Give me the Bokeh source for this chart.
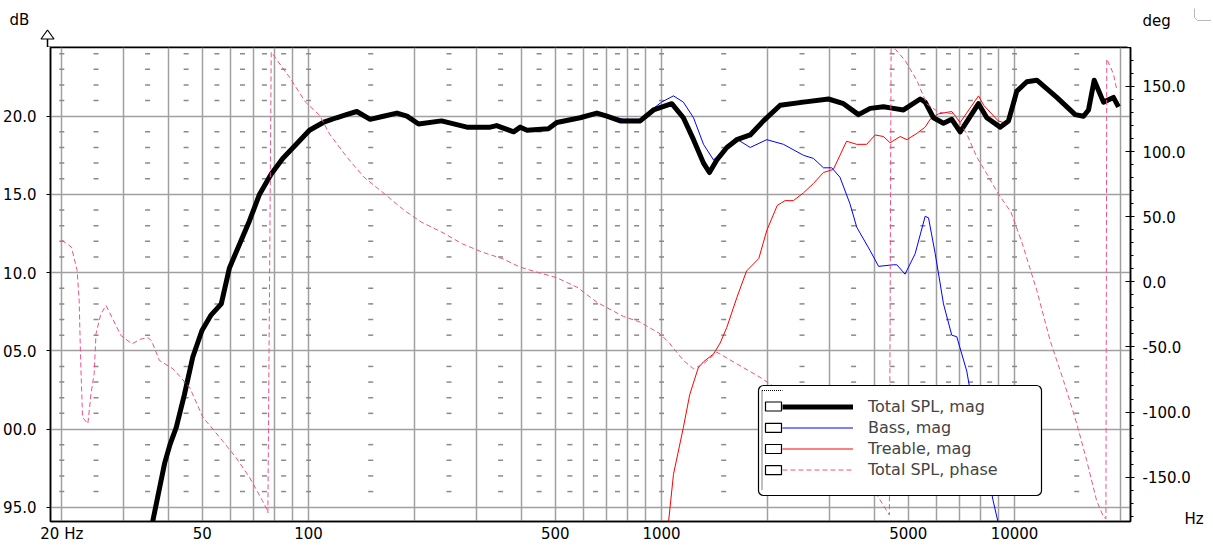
import math
from bokeh.plotting import figure
from bokeh.layouts import column
from bokeh.models import (Range1d, LinearAxis, FixedTicker, Legend, LegendItem,
                          BoxAnnotation, Label, Arrow, PolyAnnotation, PrintfTickFormatter)
from bokeh.embed import file_html
from bokeh.resources import INLINE

# ---------------- data ----------------
total_freq = [35.5, 36.2, 37.5, 39.1, 40.5, 42.2, 44.5, 47.0, 49.9, 53.0, 56.6, 59.7, 63.7, 68.0,
              72.6, 78.4, 84.5, 92.3, 100.6, 110, 120, 128, 137, 149.5, 163, 178, 190, 205, 238,
              281, 327, 341, 381, 398, 416, 478, 505, 588, 656, 700, 764, 870, 949, 1069, 1153,
              1232, 1315, 1367, 1434, 1531, 1634, 1783, 1944, 2168, 2524, 2971, 3277, 3614, 3900,
              4253, 4541, 4846, 5405, 5583, 5894, 6291, 6639, 7015, 7906, 8346, 9104, 9613, 10150,
              10835, 11565, 13175, 14852, 15680, 16200, 16814, 17863, 19060, 19700]
total_db = [93.3, 94.1, 95.8, 97.8, 99.0, 100.1, 102.2, 104.6, 106.3, 107.3, 108.0, 110.3, 111.8, 113.3,
            115.0, 116.3, 117.3, 118.2, 119.1, 119.6, 119.9, 120.1, 120.3, 119.8, 120.0, 120.2, 120.0, 119.5, 119.7,
            119.3, 119.3, 119.4, 119.0, 119.3, 119.1, 119.2, 119.6, 119.9, 120.2, 120.0, 119.7, 119.7, 120.4, 120.8, 119.9,
            118.5, 117.0, 116.4, 117.2, 118.0, 118.5, 118.8, 119.7, 120.7, 120.9, 121.1, 120.8, 120.1, 120.5,
            120.6, 120.5, 120.4, 121.1, 120.9, 119.9, 119.55, 119.8, 119.0, 120.8, 119.9, 119.3, 119.7, 121.6,
            122.2, 122.3, 121.2, 120.1, 120.0, 120.4, 122.3, 120.9, 121.2, 120.6]

# bass above the crossover (below ~700 Hz it is the total response)
bass_hi_freq = [780, 887, 949, 1000, 1081, 1153, 1232, 1315, 1404, 1499, 1618, 1783, 1987, 2216,
                2524, 2694, 2876, 3035, 3202, 3418, 3573, 3900, 4120, 4541, 4640, 4896, 5228,
                5583, 5706, 5962, 6291, 6639, 6860, 7322, 7630, 8200, 8700, 8990, 9200]
bass_hi_db = [119.8, 119.8, 120.5, 120.9, 121.3, 120.9, 119.9, 118.2, 117.2, 117.8, 118.6, 118.0, 118.5, 118.2,
              117.5, 117.3, 116.7, 116.7, 116.1, 114.4, 112.9, 111.4, 110.4, 110.5, 110.5, 109.9, 111.2,
              113.6, 113.5, 111.2, 108.0, 106.0, 105.9, 103.7, 101.4, 98.3, 95.4, 94.0, 93.0]

treble_freq = [1000, 1046, 1081, 1153, 1202, 1270, 1315, 1404, 1466, 1531, 1634, 1741, 1886, 1987,
               2128, 2238, 2363, 2524, 2694, 2876, 3068, 3202, 3344, 3573, 3809, 4030, 4253, 4441,
               4742, 4954, 5287, 5583, 5767, 6093, 6639, 7015, 7906, 8178, 8990, 9287]
treble_db = [90.5, 94.0, 97.1, 100.1, 102.2, 103.9, 104.3, 104.8, 105.5, 106.5, 108.4, 110.1, 110.9, 112.7,
             114.3, 114.6, 114.6, 115.1, 115.7, 116.4, 116.6, 117.5, 118.4, 118.2, 118.2, 118.8, 118.7, 118.3,
             118.7, 118.5, 118.9, 119.3, 119.8, 120.15, 120.3, 119.6, 121.3, 120.7, 119.7, 119.6]

phase_freq = [20.0, 21.3, 22.1, 22.4, 22.6, 22.9, 23.7, 24.2, 24.7, 25.0, 25.8, 26.7, 29.4, 31.6, 33.5,
              35.1, 35.9, 37.8, 41.3, 46.0, 50.2, 57.0, 62.2, 68.0, 74.0, 76.5, 76.7, 78.4, 88.4, 98.0,
              107.6, 114.6, 128.5, 143.6, 164, 187, 208.8, 238.7, 272.5, 311, 355, 398, 444, 505, 576,
              656, 710, 780, 870, 990, 1057, 1153, 1232, 1315, 1434, 1634, 1901, 2400, 3000, 3600,
              4253, 4420, 4470, 4600, 4896, 5287, 5640, 6093, 6746, 7322, 7820, 8346, 8990, 9774,
              10524, 11565, 12613, 13760, 15011, 16010, 17080, 17863, 18150, 18250, 19060, 19500]
phase_deg = [32.0, 26.6, 8.7, -14.4, -57.9, -104, -109, -86, -70.6, -39.9, -24.6, -18.2, -41.2, -47.6, -44,
             -43, -45.1, -60.4, -66.8, -80.9, -104, -121.9, -134.7, -150, -168, -175.6, -177.5, 176.3, 157, 138,
             127.7, 113.6, 95.7, 80.3, 67.6, 54.7, 45.8, 38.1, 29.2, 22.7, 17.7, 11.2, 7.4, 3.1, -4.1,
             -15.7, -20.7, -26.6, -31, -39.9, -47.6, -60.4, -66.8, -63, -54, -63, -73.3, -92, -115, -140,
             -171.8, -179, 179, 178.5, 170, 154.6, 136.7, 130.2, 129, 113.6, 95.7, 82.9, 67.6, 53.4,
             29.2, -6.7, -45.1, -75.8, -109, -137.2, -168, -180.5, -182, 171.2, 159.7, 146.9]

x_tick_values = [20, 50, 100, 500, 1000, 5000, 10000]
x_tick_labels = ["20 Hz", "50", "100", "500", "1000", "5000", "10000"]
db_tick_values = [95, 100, 105, 110, 115, 120]
db_tick_labels = ["95.0", "00.0", "05.0", "10.0", "15.0", "20.0"]
deg_tick_values = [-150, -100, -50, 0, 50, 100, 150]
legend_labels = ["Total SPL, mag", "Bass, mag", "Treable, mag", "Total SPL, phase"]
unit_x, unit_dB, unit_deg = "Hz", "dB", "deg"

# ---------------- geometry (page pixels) ----------------
FL, FT, FW, FH = 47, 47, 1080, 474
PAGE_W = 1211
X20_PX, PX_PER_DEC = 58.3, 353.0
DB120_PX, PX_PER_DB = 115.7, 15.64
DEG0_PX, PX_PER_DEG = 281.3, 1.3023


def hz(px):
    return 20 * 10 ** ((px - X20_PX) / PX_PER_DEC)


def db(py):
    return 120 - (py - DB120_PX) / PX_PER_DB


def deg(py):
    return (DEG0_PX - py) / PX_PER_DEG


X_MIN, X_MAX = hz(FL), hz(FL + FW)
Y_MIN, Y_MAX = db(FT + FH), db(FT)
FONT = "DejaVu Sans"
GRID = "#a0a0a0"

# ---------------- top strip: unit labels and the axis arrow ----------------
top = figure(width=PAGE_W, height=FT, x_range=Range1d(0, PAGE_W), y_range=Range1d(FT, 0),
             x_axis_location=None, y_axis_location=None, toolbar_location=None,
             output_backend="svg", min_border=0, outline_line_color=None,
             background_fill_color="white", border_fill_color="white")
top.frame_align = False
top.xgrid.visible = False
top.ygrid.visible = False
top.add_layout(Label(x=9, y=19, text=unit_dB, text_font=FONT, text_font_size="15px",
                     text_align="left", text_baseline="middle", text_color="black"))
top.add_layout(Label(x=1142, y=20, text=unit_deg, text_font=FONT, text_font_size="15px",
                     text_align="left", text_baseline="middle", text_color="black"))
top.add_layout(PolyAnnotation(xs=[FL, FL], ys=[38.5, FT], fill_alpha=0,
                              line_color="black", line_width=1.5, line_alpha=1))
top.add_layout(PolyAnnotation(xs=[40.5, FL, 53.5], ys=[38.5, 29.5, 38.5], fill_color="white",
                              fill_alpha=1, line_color="black", line_width=1.2, line_alpha=1))
top.add_layout(PolyAnnotation(xs=[FL, FL + FW], ys=[FT - 0.4, FT - 0.4], fill_alpha=0,
                              line_color="black", line_width=1.2, line_alpha=1))
top.line([1194, 1194, 1197, PAGE_W], [8, 17, 20, 20], line_color="#b8b8b8", line_width=1)

# ---------------- main chart ----------------
p = figure(x_axis_type="log", x_range=Range1d(X_MIN, X_MAX), y_range=Range1d(Y_MIN, Y_MAX),
           frame_width=FW, frame_height=FH, output_backend="svg", toolbar_location=None,
           min_border_left=FL, min_border_top=0, min_border_right=PAGE_W - FL - FW, min_border_bottom=22,
           background_fill_color="white", border_fill_color="white")
p.frame_align = False
p.outline_line_color = "black"
p.outline_line_width = 1.5

# x axis
xa = p.xaxis[0]
xa.ticker = FixedTicker(ticks=x_tick_values)
xa.major_label_overrides = {v: l for v, l in zip(x_tick_values, x_tick_labels)}
xa.major_tick_in = 0
xa.major_tick_out = 0
xa.minor_tick_in = 0
xa.minor_tick_out = 0
xa.major_label_standoff = 3
xa.axis_line_width = 1.5
xa.major_label_text_font = FONT
xa.major_label_text_font_size = "15px"
xa.major_label_text_color = "black"

# left axis
ya = p.yaxis[0]
ya.ticker = FixedTicker(ticks=db_tick_values)
ya.major_label_overrides = {v: l for v, l in zip(db_tick_values, db_tick_labels)}
ya.major_tick_in = 0
ya.major_tick_out = 4
ya.minor_tick_in = 0
ya.minor_tick_out = 0
ya.major_label_standoff = 10
ya.axis_line_width = 1.5
ya.major_label_text_font = FONT
ya.major_label_text_font_size = "15px"
ya.major_label_text_color = "black"

# right axis (phase)
p.extra_y_ranges = {"deg": Range1d(deg(FT + FH), deg(FT)), "px": Range1d(FT + FH, FT)}
ra = LinearAxis(y_range_name="deg",
                ticker=FixedTicker(ticks=deg_tick_values, minor_ticks=list(range(-180, 181, 10))),
                formatter=PrintfTickFormatter(format="%.1f"))
ra.major_tick_in = 5
ra.major_tick_out = 4
ra.minor_tick_in = 0
ra.minor_tick_out = 3
ra.major_label_standoff = 8
ra.axis_line_width = 1.5
ra.major_label_text_font = FONT
ra.major_label_text_font_size = "15px"
ra.major_label_text_color = "black"
p.add_layout(ra, "right")

# frequency unit, as the label of an outer right axis
ua = LinearAxis(y_range_name="px", ticker=FixedTicker(ticks=[518]),
                major_label_overrides={518: unit_x})
ua.axis_line_color = None
ua.major_tick_in = 0
ua.major_tick_out = 0
ua.minor_tick_in = 0
ua.minor_tick_out = 0
ua.major_label_standoff = -9
ua.major_label_text_font = FONT
ua.major_label_text_font_size = "15px"
ua.major_label_text_color = "black"
p.add_layout(ua, "right")

# grid
p.xgrid.ticker = FixedTicker(ticks=[k * d for d in (10, 100, 1000, 10000) for k in range(1, 10)
                                    if X_MIN <= k * d <= X_MAX])
p.xgrid.grid_line_color = GRID
p.xgrid.grid_line_width = 1.5
p.ygrid.ticker = FixedTicker(ticks=db_tick_values)
p.ygrid.grid_line_color = GRID
p.ygrid.grid_line_width = 1.5

# dashed minor grid marks
dash_f = []
for d in (10, 100, 1000, 10000):
    for k in [1.0] + [m + 0.5 for m in range(1, 9)]:
        f = k * d
        if X_MIN <= f <= X_MAX:
            dash_f.append(f)
dash_f.append(20)
dash_levels = [v for v in range(math.ceil(Y_MIN), math.floor(Y_MAX) + 1) if v % 5 != 0]
dx = [f for f in dash_f for _ in dash_levels]
dy = [v for _ in dash_f for v in dash_levels]
p.scatter(dx, dy, marker="dash", size=5, line_color="#8a8a8a", line_width=1.5)

# curves
bass_freq = [f for f in total_freq if f < 700] + bass_hi_freq
bass_db = [v for f, v in zip(total_freq, total_db) if f < 700] + bass_hi_db
treb_freq = treble_freq + [f for f in total_freq if f > 9400]
treb_db = treble_db + [v for f, v in zip(total_freq, total_db) if f > 9400]

r_bass = p.line(bass_freq, bass_db, line_color="#0000ff", line_width=1)
r_treb = p.line(treb_freq, treb_db, line_color="#ff0000", line_width=1)
r_tot = p.line(total_freq, total_db, line_color="black", line_width=5, line_join="round")
r_ph = p.line(phase_freq, phase_deg, y_range_name="deg", line_color="#f0508c",
              line_dash="5 3", line_width=1)

# legend frame
p.add_layout(BoxAnnotation(left=hz(755), right=hz(1038), top=db(385), bottom=db(495),
                           fill_color="white", fill_alpha=1, line_color="black", line_alpha=1,
                           line_width=1.2, border_radius=5))

leg = Legend(items=[LegendItem(label=l, renderers=[r]) for l, r in
                    zip(legend_labels, [r_tot, r_bass, r_treb, r_ph])],
             location=(779 - FL, (FT + FH) - 479.5), padding=0, spacing=0, margin=0,
             glyph_width=71, glyph_height=21, label_height=21, label_standoff=15,
             label_text_font=FONT, label_text_font_size="16px",
             border_line_color=None, background_fill_alpha=0)
p.add_layout(leg)

# legend checkboxes and dotted edge
for rc in (406, 427.3, 448.5, 469.7):
    p.add_layout(BoxAnnotation(left=hz(762), right=hz(778), top=db(rc - 4.5), bottom=db(rc + 4.5),
                               fill_color="white", fill_alpha=1, line_color="black", line_alpha=1,
                               line_width=1.2, level="overlay"))
p.add_layout(Arrow(end=None, x_start=hz(758.5), y_start=db(390), x_end=hz(758.5), y_end=db(489),
                   line_color="black", line_width=1, line_dash="1 1", level="overlay"))
p.add_layout(Arrow(end=None, x_start=hz(758.5), y_start=db(390), x_end=hz(779), y_end=db(390),
                   line_color="black", line_width=1, line_dash="1 1", level="overlay"))

layout = column(top, p, spacing=0)
open("out.html", "w").write(file_html(layout, INLINE))
